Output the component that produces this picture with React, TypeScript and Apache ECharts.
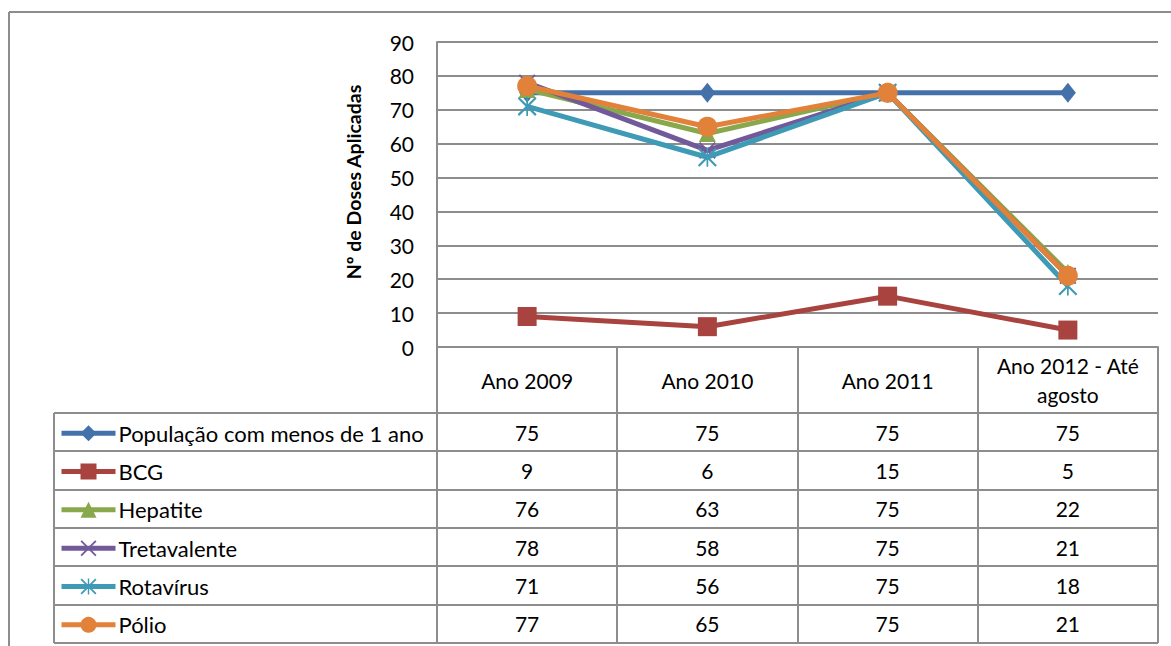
import React, { useEffect, useRef } from "react";
import * as echarts from "echarts";

const categories = ["Ano 2009", "Ano 2010", "Ano 2011", "Ano 2012 - Até\nagosto"];
const seriesNames = ["População com menos de 1 ano", "BCG", "Hepatite", "Tretavalente", "Rotavírus", "Pólio"];
const populacao = [75, 75, 75, 75];
const bcg = [9, 6, 15, 5];
const hepatite = [76, 63, 75, 22];
const tretavalente = [78, 58, 75, 21];
const rotavirus = [71, 56, 75, 18];
const polio = [77, 65, 75, 21];
const yTicks = { min: 0, max: 90, interval: 10 };
const yTitle = "Nº de Doses Aplicadas";

const colors = ["#4571AA", "#A9433F", "#89A84B", "#72599A", "#3F9AB5", "#E2813A"];

const XPATH =
  "path://M0,1.6 L1.6,0 L20,18.4 L18.4,20 Z M18.4,0 L20,1.6 L1.6,20 L0,18.4 Z";
const STARPATH =
  "path://M0,1.6 L1.6,0 L20,18.4 L18.4,20 Z M18.4,0 L20,1.6 L1.6,20 L0,18.4 Z M9.1,0 L10.9,0 L10.9,20 L9.1,20 Z";

const symbols: any[] = ["diamond", "rect", "triangle", XPATH, STARPATH, "circle"];
const symbolSizes: any[] = [[16, 20], 19, 17, 17, 19, 20];

// layout
const W = 1171;
const H = 646;
const GL = 437;
const GR = 1158;
const GT = 42;
const GB = 347;
const HEADER_BOTTOM = 413;
const ROW_H = 38.33;
const TABLE_LEFT = 54;
const FONT = "Lato, 'Open Sans', sans-serif";
const FS = 21;
const LINE = "#8d8d8d";

export default function App() {
  const ref = useRef<HTMLDivElement>(null);
  useEffect(() => {
    document.body.style.margin = "0";
    const chart = echarts.init(ref.current!, undefined, { renderer: "svg" });
    const data = [populacao, bcg, hepatite, tretavalente, rotavirus, polio];
    const nRows = data.length;
    const tableBottom = HEADER_BOTTOM + ROW_H * nRows;
    const colW = (GR - GL) / categories.length;

    const graphics: any[] = [];
    const ln = (x1: number, y1: number, x2: number, y2: number, w = 2, c = LINE) =>
      graphics.push({
        type: "line",
        silent: true,
        shape: { x1, y1, x2, y2 },
        style: { stroke: c, lineWidth: w },
        z: 1,
      });
    // outer border
    ln(9, 12, W, 12);
    ln(9, 12, 9, H);
    // table horizontal lines
    for (let r = 0; r <= nRows; r++) {
      const y = Math.round(HEADER_BOTTOM + ROW_H * r);
      ln(TABLE_LEFT, y, GR, y);
    }
    // verticals
    ln(TABLE_LEFT, HEADER_BOTTOM, TABLE_LEFT, Math.round(tableBottom));
    ln(GL, GT, GL, Math.round(tableBottom));
    for (let c = 1; c <= categories.length; c++) {
      const x = Math.round(GL + colW * c);
      ln(x, GB, x, Math.round(tableBottom));
    }
    // values
    data.forEach((arr, r) => {
      arr.forEach((v, c) => {
        graphics.push({
          type: "text",
          silent: true,
          x: GL + colW * (c + 0.5),
          y: HEADER_BOTTOM + ROW_H * (r + 0.5),
          style: {
            text: String(v),
            fill: "#000",
            font: `${FS}px ${FONT}`,
            align: "center",
            verticalAlign: "middle",
          },
        });
      });
    });
    // y title
    graphics.push({
      type: "text",
      silent: true,
      x: 353,
      y: 182,
      rotation: Math.PI / 2,
      style: {
        text: yTitle,
        fill: "#000",
        font: `bold 19.5px ${FONT}`,
        align: "center",
        verticalAlign: "middle",
      },
    });

    const legends = seriesNames.map((name, i) => ({
      orient: "vertical",
      left: 59,
      top: HEADER_BOTTOM + ROW_H * (i + 0.5) - 10,
      padding: 0,
      itemWidth: 54,
      itemHeight: 20,
      itemGap: 0,
      lineStyle: { width: 5 },
      textStyle: { fontFamily: FONT, fontSize: 22, color: "#000", padding: [2, 0, 0, -2] },
      data: [name],
      selectedMode: false,
    }));

    chart.setOption({
      animation: false,
      backgroundColor: "#fff",
      grid: { left: GL, right: W - GR, top: GT, bottom: H - GB, containLabel: false },
      legend: legends,
      xAxis: {
        type: "category",
        data: categories,
        boundaryGap: true,
        axisLine: { show: true, lineStyle: { color: LINE, width: 2 } },
        axisTick: { show: false },
        axisLabel: {
          interval: 0,
          margin: 33,
          verticalAlign: "middle",
          lineHeight: 29,
          fontFamily: FONT,
          fontSize: FS,
          color: "#000",
          align: "center",
        },
      },
      yAxis: {
        type: "value",
        min: yTicks.min,
        max: yTicks.max,
        interval: yTicks.interval,
        axisLine: { show: true, lineStyle: { color: LINE, width: 2 } },
        axisTick: { show: false },
        splitLine: { show: true, lineStyle: { color: LINE, width: 2 } },
        axisLabel: { margin: 23, fontFamily: FONT, fontSize: FS, color: "#000" },
      },
      series: data.map((arr, i) => ({
        name: seriesNames[i],
        type: "line",
        data: arr,
        symbol: symbols[i],
        symbolSize: symbolSizes[i],
        showAllSymbol: true,
        color: colors[i],
        lineStyle: { width: 5, color: colors[i] },
        itemStyle: { color: colors[i], borderColor: colors[i], borderWidth: 0, opacity: 1 },
        z: 3 + i,
      })),
      graphic: graphics,
    });
    return () => chart.dispose();
  }, []);
  return <div ref={ref} style={{ width: W, height: H }} />;
}
